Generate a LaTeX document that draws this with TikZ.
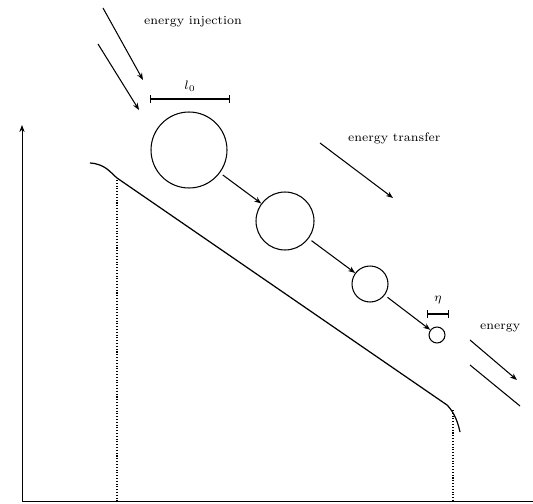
\documentclass[tikz,border=0pt]{standalone}
\usepackage{amsmath}
\usepackage{xcolor}
\usepackage{tikz}
\usetikzlibrary{arrows.meta, positioning}

\begin{document}
\begin{tikzpicture}[
  x=0.02cm, y=-0.02cm,
  eddy/.style={draw, circle, inner sep=0pt, line width=0.6pt},
  arr/.style={-{Stealth[length=4pt,width=3pt]}, line width=0.6pt},
  lbl/.style={font=\scriptsize, inner sep=1pt},
  bar/.style={{Bar[width=4pt]}-{Bar[width=4pt]}, line width=0.6pt}
]
\useasboundingbox (0,0) rectangle (533,503);

% axes
\coordinate (origin) at (22,501);
\coordinate (ytop) at (22,125);
\coordinate (xend) at (533,501);
\draw[-{Stealth[length=4pt,width=3pt]}, line width=0.5pt] (origin) -- (ytop);
\draw[line width=0.5pt] (origin) -- (xend);

% spectrum
\coordinate (s0) at (90,163);
\coordinate (s1) at (117,178);
\coordinate (s2) at (447,405);
\coordinate (s3) at (460,432);
\draw[line width=0.7pt] (s0) .. controls (105,164) and (110,172) .. (s1) -- (s2) .. controls (452,410) and (457,418) .. (s3);
\draw[densely dotted, line width=0.6pt] (117,180) -- (117,501);
\draw[densely dotted, line width=0.6pt] (453,410) -- (453,501);

% eddies
\node[eddy, minimum size=1.52cm] (c1) at (189,150) {};
\node[eddy, minimum size=1.16cm] (c2) at (285,221) {};
\node[eddy, minimum size=0.72cm] (c3) at (370,284) {};
\node[eddy, minimum size=0.32cm] (c4) at (437,335) {};

\draw[arr, shorten <=2pt] (c1) -- (c2);
\draw[arr, shorten <=2pt] (c2) -- (c3);
\draw[arr, shorten <=2pt] (c3) -- (c4);

% scales
\coordinate (l0a) at (150,99);
\coordinate (l0b) at (230,99);
\draw[bar] (l0a) -- (l0b);
\node[lbl] (l0) at (190,86) {$l_0$};
\coordinate (lea) at (427,314);
\coordinate (leb) at (449,314);
\draw[bar] (lea) -- (leb);
\node[lbl] (le) at (438,300) {$\eta$};

% energy injection
\node[lbl, right] (inj) at (142,22) {energy injection};
\coordinate (i1a) at (103,8);
\coordinate (i1b) at (143,80);
\coordinate (i2a) at (98,44);
\coordinate (i2b) at (139,110);
\draw[arr] (i1a) -- (i1b);
\draw[arr] (i2a) -- (i2b);

% energy transfer
\node[lbl, right] (tra) at (346,138) {energy transfer};
\coordinate (t1a) at (320,143);
\coordinate (t1b) at (393,198);
\draw[arr] (t1a) -- (t1b);

% energy dissipation
\node[lbl, right] (dis) at (478,328) {energy};
\coordinate (d1a) at (470,340);
\coordinate (d1b) at (517,380);
\coordinate (d2a) at (470,365);
\coordinate (d2b) at (520,406);
\draw[arr] (d1a) -- (d1b);
\draw[line width=0.6pt] (d2a) -- (d2b);
\end{tikzpicture}
\end{document}
